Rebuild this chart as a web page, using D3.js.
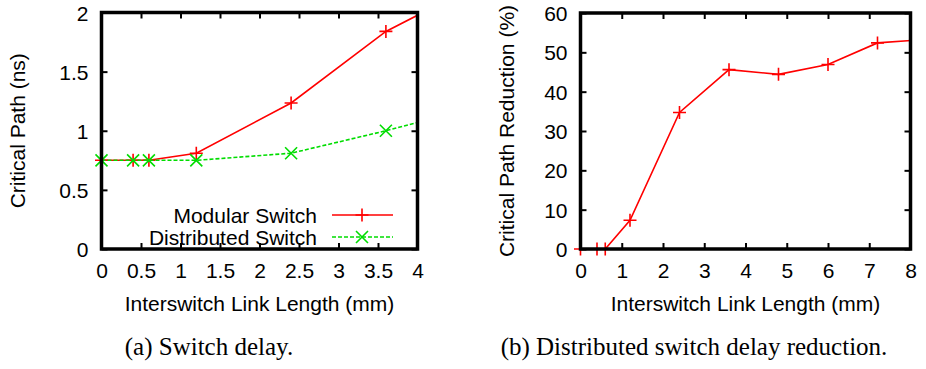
<!DOCTYPE html>
<html>
<head>
<meta charset="utf-8">
<script src="https://cdn.jsdelivr.net/npm/d3@7"></script>
<style>
  body { margin: 0; background: #fff; }
  svg { display: block; }
  .sans { font-family: "Liberation Sans", Arial, Helvetica, sans-serif; }
  .serif { font-family: "Liberation Serif", "Times New Roman", serif; }
</style>
</head>
<body>
<svg id="fig" width="926" height="369"></svg>
<script>
// (a) switch delay vs interswitch link length
const lengthsA = [0, 0.4, 0.6, 1.2, 2.4, 3.6, 4.8];
const modularDelay = [0.75, 0.75, 0.75, 0.81, 1.235, 1.84, 2.25];
const distributedDelay = [0.75, 0.75, 0.75, 0.75, 0.81, 1.0, 1.21];
const xTicksA = [0, 0.5, 1, 1.5, 2, 2.5, 3, 3.5, 4];
const yTicksA = [0, 0.5, 1, 1.5, 2];

// (b) critical path reduction of the distributed switch
const lengthsB = [0, 0.4, 0.6, 1.2, 2.4, 3.6, 4.8, 6.0, 7.2, 8.4];
const pathReduction = [0, 0, 0, 7.3, 34.7, 45.6, 44.4, 46.9, 52.4, 53.3];
const xTicksB = [0, 1, 2, 3, 4, 5, 6, 7, 8];
const yTicksB = [0, 10, 20, 30, 40, 50, 60];

const RED = "#ff0000";
const GREEN = "#00dd00";
const FONT = 21;

const svg = d3.select("#fig");
svg.append("rect").attr("width", 926).attr("height", 369).attr("fill", "#fff");

function plusMarker(g, x, y, color) {
  const s = 6.5;
  g.append("path")
    .attr("d", `M${x - s},${y}H${x + s}M${x},${y - s}V${y + s}`)
    .attr("stroke", color).attr("stroke-width", 1.6).attr("fill", "none");
}
function crossMarker(g, x, y, color) {
  const s = 6;
  g.append("path")
    .attr("d", `M${x - s},${y - s}L${x + s},${y + s}M${x - s},${y + s}L${x + s},${y - s}`)
    .attr("stroke", color).attr("stroke-width", 1.6).attr("fill", "none");
}

function panel(cfg) {
  const g = svg.append("g");
  const x = d3.scaleLinear().domain(cfg.xDomain).range([cfg.left, cfg.right]);
  const y = d3.scaleLinear().domain(cfg.yDomain).range([cfg.bottom, cfg.top]);

  const styleAxis = sel => {
    sel.select(".domain").remove();
    sel.selectAll(".tick line").attr("stroke", "#000").attr("stroke-width", 2);
    sel.selectAll(".tick text").attr("class", "sans").attr("font-size", FONT).attr("fill", "#000");
  };

  g.append("g").attr("transform", `translate(0,${cfg.bottom})`)
    .call(d3.axisBottom(x).tickValues(cfg.xTicks).tickFormat(d3.format("~g"))
      .tickSizeInner(-6).tickSizeOuter(0).tickPadding(14))
    .call(styleAxis);
  g.append("g").attr("transform", `translate(0,${cfg.top})`)
    .call(d3.axisTop(x).tickValues(cfg.xTicks).tickFormat("")
      .tickSizeInner(-6).tickSizeOuter(0))
    .call(styleAxis);
  g.append("g").attr("transform", `translate(${cfg.left},0)`)
    .call(d3.axisLeft(y).tickValues(cfg.yTicks).tickFormat(d3.format("~g"))
      .tickSizeInner(-6).tickSizeOuter(0).tickPadding(13))
    .call(styleAxis)
    .selectAll(".tick text").attr("dy", "0.36em");
  g.append("g").attr("transform", `translate(${cfg.right},0)`)
    .call(d3.axisRight(y).tickValues(cfg.yTicks).tickFormat("")
      .tickSizeInner(-6).tickSizeOuter(0))
    .call(styleAxis);

  // data lines are clipped to the plotting area
  const clipId = cfg.id + "-clip";
  svg.append("defs").append("clipPath").attr("id", clipId)
    .append("rect").attr("x", cfg.left).attr("y", cfg.top)
    .attr("width", cfg.right - cfg.left).attr("height", cfg.bottom - cfg.top);

  cfg.series.forEach(s => {
    const pts = cfg.xs.map((v, i) => [v, s.values[i]]);
    const line = d3.line().x(d => x(d[0])).y(d => y(d[1]));
    g.append("path").datum(pts)
      .attr("clip-path", `url(#${clipId})`)
      .attr("d", line).attr("fill", "none")
      .attr("stroke", s.color).attr("stroke-width", 1.6)
      .attr("stroke-dasharray", s.dash || null);
    const mk = g.append("g");
    pts.filter(d => d[0] <= cfg.xDomain[1]).forEach(d => s.marker(mk, x(d[0]), y(d[1]), s.color));
  });

  // plot border
  g.append("rect")
    .attr("x", cfg.left).attr("y", cfg.top)
    .attr("width", cfg.right - cfg.left).attr("height", cfg.bottom - cfg.top)
    .attr("fill", "none").attr("stroke", "#000").attr("stroke-width", 3.5);

  // axis titles
  g.append("text").attr("class", "sans").attr("font-size", FONT)
    .attr("x", (cfg.left + cfg.right) / 2).attr("y", 311)
    .attr("text-anchor", "middle").text(cfg.xTitle);
  g.append("text").attr("class", "sans").attr("font-size", FONT)
    .attr("transform", `translate(${cfg.yTitleX},${(cfg.top + cfg.bottom) / 2}) rotate(-90)`)
    .attr("text-anchor", "middle").text(cfg.yTitle);

  // sub-figure caption
  g.append("text").attr("class", "serif").attr("font-size", 25)
    .attr("x", cfg.captionX).attr("y", 355)
    .attr("text-anchor", "middle").text(cfg.caption);

  return { g, x, y };
}

const a = panel({
  id: "pa", left: 101.5, right: 417.5, top: 12.5, bottom: 249,
  xDomain: [0, 4], yDomain: [0, 2], xTicks: xTicksA, yTicks: yTicksA,
  xs: lengthsA,
  series: [
    { name: "Modular Switch", values: modularDelay, color: RED, marker: plusMarker },
    { name: "Distributed Switch", values: distributedDelay, color: GREEN, marker: crossMarker, dash: "4,2" }
  ],
  xTitle: "Interswitch Link Length (mm)",
  yTitle: "Critical Path (ns)", yTitleX: 25,
  caption: "(a) Switch delay.", captionX: 209
});

// legend for panel (a)
const legendRows = [
  { label: "Modular Switch", color: RED, marker: plusMarker, dash: null, y: 215 },
  { label: "Distributed Switch", color: GREEN, marker: crossMarker, dash: "4,2", y: 237 }
];
legendRows.forEach(r => {
  a.g.append("text").attr("class", "sans").attr("font-size", FONT)
    .attr("x", 317).attr("y", r.y + 7.5).attr("text-anchor", "end").text(r.label);
  a.g.append("line").attr("x1", 332).attr("x2", 393).attr("y1", r.y).attr("y2", r.y)
    .attr("stroke", r.color).attr("stroke-width", 1.6).attr("stroke-dasharray", r.dash);
  r.marker(a.g, 362, r.y, r.color);
});

panel({
  id: "pb", left: 580.5, right: 910.5, top: 13, bottom: 249,
  xDomain: [0, 8], yDomain: [0, 60], xTicks: xTicksB, yTicks: yTicksB,
  xs: lengthsB,
  series: [
    { name: "Reduction", values: pathReduction, color: RED, marker: plusMarker }
  ],
  xTitle: "Interswitch Link Length (mm)",
  yTitle: "Critical Path Reduction (%)", yTitleX: 514,
  caption: "(b) Distributed switch delay reduction.", captionX: 694
});
</script>
</body>
</html>
